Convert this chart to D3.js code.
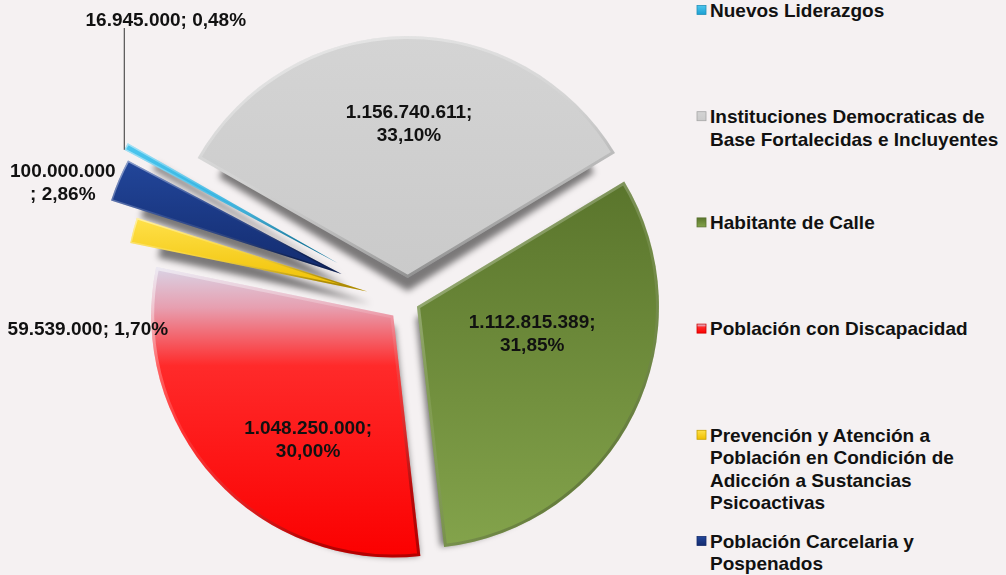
<!DOCTYPE html>
<html>
<head>
<meta charset="utf-8">
<script src="https://cdn.jsdelivr.net/npm/d3@7"></script>
<style>
  html, body { margin: 0; padding: 0; background: #f5f1f2; }
  svg { display: block; }
  text { font-family: "Liberation Sans", Arial, sans-serif; font-weight: bold; fill: #111; }
</style>
</head>
<body>
<svg id="chart" width="1006" height="575"></svg>
<script>
const width = 1006;
const height = 575;

// Data
const names = [
  "Nuevos Liderazgos",
  "Instituciones Democraticas de\nBase Fortalecidas e Incluyentes",
  "Habitante de Calle",
  "Población con Discapacidad",
  "Prevención y Atención a\nPoblación en Condición de\nAdicción a Sustancias\nPsicoactivas",
  "Población Carcelaria y\nPospenados"
];
const values = [16945000, 1156740611, 1112815389, 1048250000, 59539000, 100000000];

// Styles
const colors = ["#2db4e4", "#cdcdcd", "#6e8c3a", "#ff0000", "#f5c800", "#1b3784"];
const gradStops = [
  [["0", "#4cc6ee"], ["1", "#1a9fd2"]],
  [["0", "#d4d4d4"], ["1", "#cacaca"]],
  [["0", "#5a752c"], ["1", "#83a34b"]],
  [["0", "#d9d4e6"], ["0.14", "#e79fb0"], ["0.34", "#ff2a2a"], ["1", "#fb0000"]],
  [["0", "#ffe14a"], ["1", "#efbf00"]],
  [["0", "#22469a"], ["1", "#132b6e"]]
];
const explode = [80, 24, 10, 20, 42, 72];
const labelBreak = ["none", "after", "after", "after", "none", "before"];
const labelNudge = [[-45, -174], [3, -10], [-15, -38], [22, 25], [-139, 73], [-145, -36]];

const cx = 408, cy = 302, radius = 242;
const startAngle = -62 * Math.PI / 180;

const locale = d3.formatLocale({decimal: ",", thousands: ".", grouping: [3], currency: ["$", ""]});
const fmtValue = locale.format(",d");
const fmtPct = locale.format(".2%");

const svg = d3.select("#chart");
const defs = svg.append("defs");

svg.append("rect").attr("width", width).attr("height", height).attr("fill", "#f5f1f2");

// gradients per slice
gradStops.forEach((stops, i) => {
  const g = defs.append("linearGradient").attr("id", "fill" + i)
    .attr("x1", 0).attr("y1", 0).attr("x2", 0).attr("y2", 1);
  stops.forEach(s => g.append("stop").attr("offset", s[0]).attr("stop-color", s[1]));
});

const bev = defs.append("linearGradient").attr("id", "bevel")
  .attr("x1", 0).attr("y1", 0).attr("x2", 0.5).attr("y2", 1);
bev.append("stop").attr("offset", 0).attr("stop-color", "#fff").attr("stop-opacity", 0.5);
bev.append("stop").attr("offset", 0.5).attr("stop-color", "#fff").attr("stop-opacity", 0.1);
bev.append("stop").attr("offset", 1).attr("stop-color", "#000").attr("stop-opacity", 0.28);

const blur = defs.append("filter").attr("id", "shadowBlur")
  .attr("x", "-20%").attr("y", "-20%").attr("width", "140%").attr("height", "140%");
blur.append("feGaussianBlur").attr("stdDeviation", 3.5);

const pie = d3.pie().sort(null).value(d => d)
  .startAngle(startAngle).endAngle(startAngle + 2 * Math.PI);
const arcs = pie(values);

const arc = d3.arc().innerRadius(0).outerRadius(radius);
const labelArc = d3.arc().innerRadius(radius * 0.6).outerRadius(radius * 0.6);

function offset(d, i) {
  const a = (d.startAngle + d.endAngle) / 2;
  return [explode[i] * Math.sin(a), -explode[i] * Math.cos(a)];
}

// Shadows first
const shadows = svg.append("g")
  .attr("transform", `translate(${cx},${cy + 12}) scale(0.9,0.95)`)
  .attr("filter", "url(#shadowBlur)");
shadows.selectAll("path")
  .data(arcs)
  .join("path")
    .attr("transform", (d, i) => `translate(${offset(d, i)})`)
    .attr("d", arc)
    .attr("fill", "#000")
    .attr("fill-opacity", 0.5);

// Slices
const slices = svg.append("g").attr("transform", `translate(${cx},${cy})`);
const slice = slices.selectAll("g")
  .data(arcs)
  .join("g")
    .attr("transform", (d, i) => `translate(${offset(d, i)})`);

slice.append("clipPath").attr("id", (d, i) => "clip" + i)
  .append("path").attr("d", arc);

slice.append("path")
  .attr("d", arc)
  .attr("fill", (d, i) => `url(#fill${i})`);

slice.append("path")
  .attr("d", arc)
  .attr("fill", "none")
  .attr("stroke", "url(#bevel)")
  .attr("stroke-width", (d, i) => d.endAngle - d.startAngle < 0.3 ? 3 : 6)
  .attr("stroke-linejoin", "round")
  .attr("clip-path", (d, i) => `url(#clip${i})`);

// Data labels
const lineH = 23;
arcs.forEach((d, i) => {
  const off = offset(d, i);
  const c = labelArc.centroid(d);
  const x = cx + off[0] + c[0] + labelNudge[i][0];
  const y = cy + off[1] + c[1] + labelNudge[i][1];
  const v = fmtValue(d.data), p = fmtPct(d.data / d3.sum(values));
  let lines;
  if (labelBreak[i] === "after") lines = [v + ";", p];
  else if (labelBreak[i] === "before") lines = [v, "; " + p];
  else lines = [v + "; " + p];
  const t = svg.append("text")
    .attr("x", x).attr("y", y)
    .attr("text-anchor", "middle")
    .style("font-size", "19px");
  lines.forEach((l, k) => {
    t.append("tspan")
      .attr("x", x)
      .attr("y", y + 6.8 + (k - (lines.length - 1) / 2) * lineH)
      .text(l);
  });
});

// Leader line for the smallest slice
{
  const d = arcs[0], off = offset(d, 0);
  const px = cx + off[0] + radius * Math.sin(d.startAngle);
  const py = cy + off[1] - radius * Math.cos(d.startAngle);
  svg.append("line")
    .attr("x1", px).attr("x2", px)
    .attr("y1", 28).attr("y2", py)
    .attr("stroke", "#333").attr("stroke-width", 1);
}

// Legend
const ly = d3.scalePoint().domain(names).range([10, 541]);
const legend = svg.append("g");
const item = legend.selectAll("g")
  .data(names)
  .join("g")
    .attr("transform", d => `translate(697,${ly(d)})`);

item.append("rect")
  .attr("x", 0).attr("y", -4.5)
  .attr("width", 9).attr("height", 9)
  .attr("fill", (d, i) => `url(#fill${i})`)
  .attr("stroke", (d, i) => d3.color(colors[i]).darker(0.6))
  .attr("stroke-width", 0.8);

item.append("text")
  .style("font-size", "19px")
  .selectAll("tspan")
  .data(d => d.split("\n"))
  .join("tspan")
    .attr("x", 13)
    .attr("y", (d, k) => 6.8 + k * 22.6)
    .text(d => d);
</script>
</body>
</html>
